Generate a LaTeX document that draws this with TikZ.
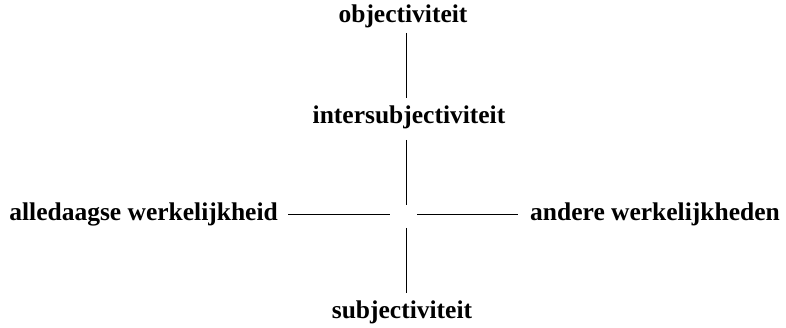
\documentclass[tikz,border=0pt]{standalone}
\usepackage{fontspec}
\setmainfont{Liberation Serif}
\begin{document}
\begin{tikzpicture}[x=1pt,y=-1pt,
  lbl/.style={font=\bfseries\fontsize{25.5}{30}\selectfont, inner sep=0pt, anchor=base},
  conn/.style={line width=0.8pt}]
\useasboundingbox (0,0) rectangle (786,328);
\node[lbl] (obj) at (403,23) {objectiviteit};
\node[lbl] (inter) at (409,124) {intersubjectiviteit};
\node[lbl] (subj) at (402,318) {subjectiviteit};
\node[lbl, anchor=base east] (alle) at (278,221) {alledaagse werkelijkheid};
\node[lbl, anchor=base west] (ander) at (530,221) {andere werkelijkheden};
\coordinate (gt) at (406,205);
\coordinate (gb) at (406,228);
\coordinate (gl) at (390,214);
\coordinate (gr) at (417,214);
\coordinate (oa) at (406,33);
\coordinate (ob) at (406,98);
\coordinate (ia) at (406,140);
\coordinate (sb) at (406,293);
\coordinate (la) at (288,214);
\coordinate (rb) at (518,214);
\draw[conn] (oa) -- (ob);
\draw[conn] (ia) -- (gt);
\draw[conn] (gb) -- (sb);
\draw[conn] (la) -- (gl);
\draw[conn] (gr) -- (rb);
\end{tikzpicture}
\end{document}
